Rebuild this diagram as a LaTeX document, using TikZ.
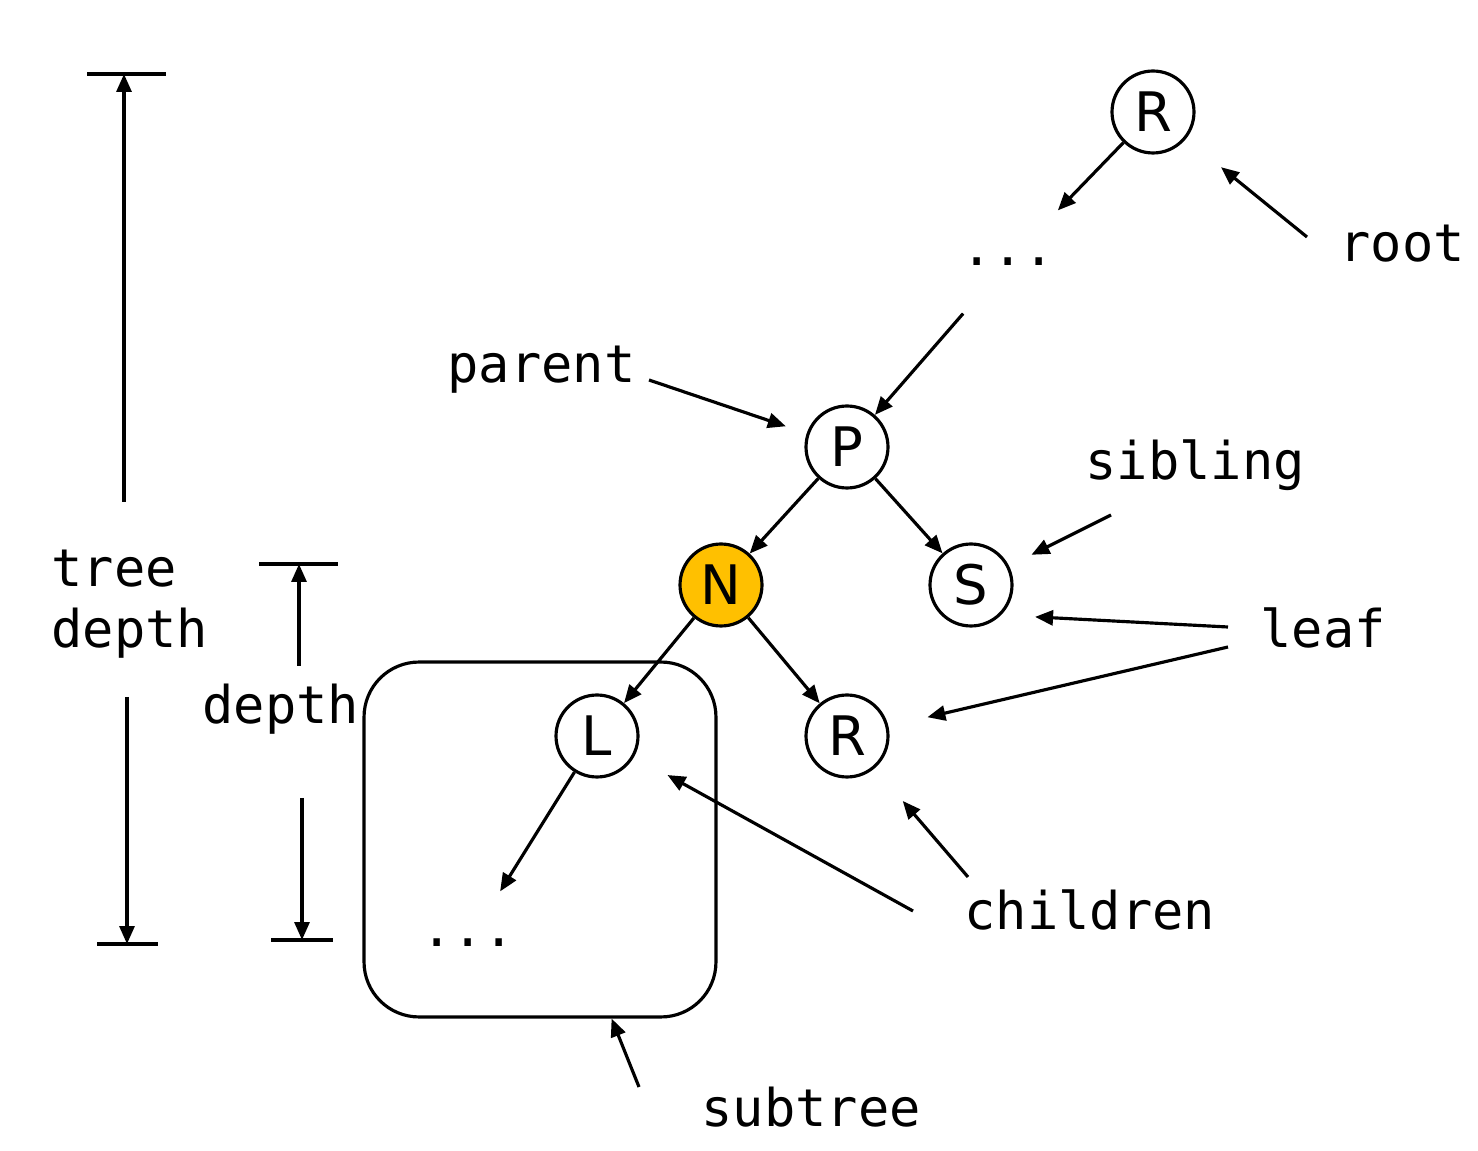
\documentclass[tikz,border=0pt]{standalone}
\usepackage{fontspec}
\setmonofont{DejaVu Sans Mono}
\setsansfont{DejaVu Sans}
\usetikzlibrary{arrows.meta}
\definecolor{gold}{HTML}{FFC000}

\begin{document}
\begin{tikzpicture}[x=0.02cm,y=-0.02cm,line width=1.8pt,
  arr/.style={-{Triangle[length=0.36cm,width=0.3cm]}},
  vertex/.style={circle,draw,minimum size=1.64cm,inner sep=0pt,
                 font=\sffamily\fontsize{31}{31}\selectfont},
  dots/.style={minimum width=2.4cm,minimum height=2cm,inner sep=0pt,
               font=\ttfamily\fontsize{29.6}{35}\selectfont},
  lbl/.style={inner sep=0pt,anchor=base west,
              font=\ttfamily\fontsize{29.6}{35}\selectfont}]
\useasboundingbox (0,0) rectangle (1478,1151);

\node[vertex] (R)  at (1153,112) {R};
\node[dots]   (up) at (1008,262) {...};
\node[vertex] (P)  at (847,447) {P};
\node[vertex,fill=gold] (N) at (721,585) {N};
\node[vertex] (S)  at (971,585) {S};
\node[vertex] (L)  at (597,736) {L};
\node[vertex] (Rr) at (847,736) {R};
\node[dots]   (down) at (468,943) {...};
\node[draw,rounded corners=1.1cm,minimum width=7.04cm,minimum height=7.1cm] (sub) at (540,839.5) {};

\draw[arr] (R) -- (up);
\draw[arr] (up) -- (P);
\draw[arr] (P) -- (N);
\draw[arr] (P) -- (S);
\draw[arr] (N) -- (L);
\draw[arr] (N) -- (Rr);
\draw[arr] (L) -- (down);

\node[lbl] (root)     at (1338,262) {root};
\node[lbl] (parent)   at (446,383)  {parent};
\node[lbl] (sibling)  at (1084,480) {sibling};
\node[lbl] (leaf)     at (1259,648) {leaf};
\node[lbl] (children) at (963,929)  {children};
\node[lbl] (subtree)  at (700,1126) {subtree};
\node[lbl] (depth)    at (201,724)  {depth};
\node[lbl,align=left,anchor=west] (treedepth) at (50,604) {tree\\depth};

% label arrows
\coordinate (rootT)      at (1307,237);
\coordinate (parentT)    at (649,380);
\coordinate (siblingT)   at (1111,515);
\coordinate (leafTa)     at (1228,627);
\coordinate (leafTb)     at (1228,647);
\coordinate (childrenTa) at (968,877);
\coordinate (childrenTb) at (913,911);
\coordinate (subtreeT)   at (639,1087);
\draw[arr,shorten >=0.9cm]  (rootT) -- (R);
\draw[arr,shorten >=0.44cm] (parentT) -- (P);
\draw[arr,shorten >=0.5cm]  (siblingT) -- (S);
\draw[arr,shorten >=0.68cm] (leafTa) -- (S.south east);
\draw[arr,shorten >=0.8cm]  (leafTb) -- (Rr);
\draw[arr,shorten >=0.86cm] (childrenTa) -- (Rr);
\draw[arr,shorten >=0.76cm] (childrenTb) -- (L);
\draw[arr] (subtreeT) -- (sub);

% depth bars
\coordinate (tdTop) at (124,74);
\coordinate (tdUp)  at (124,502);
\coordinate (tdDown) at (127,697);
\coordinate (tdBot) at (127,944);
\draw (87,74) -- (166,74);
\draw (97,944) -- (158,944);
\draw[arr] (tdUp) -- (tdTop);
\draw[arr] (tdDown) -- (tdBot);
\coordinate (dTop) at (299,564);
\coordinate (dUp)  at (299,666);
\coordinate (dDown) at (302,798);
\coordinate (dBot) at (302,940);
\draw (259,564) -- (338,564);
\draw (271,940) -- (333,940);
\draw[arr] (dUp) -- (dTop);
\draw[arr] (dDown) -- (dBot);
\end{tikzpicture}
\end{document}
